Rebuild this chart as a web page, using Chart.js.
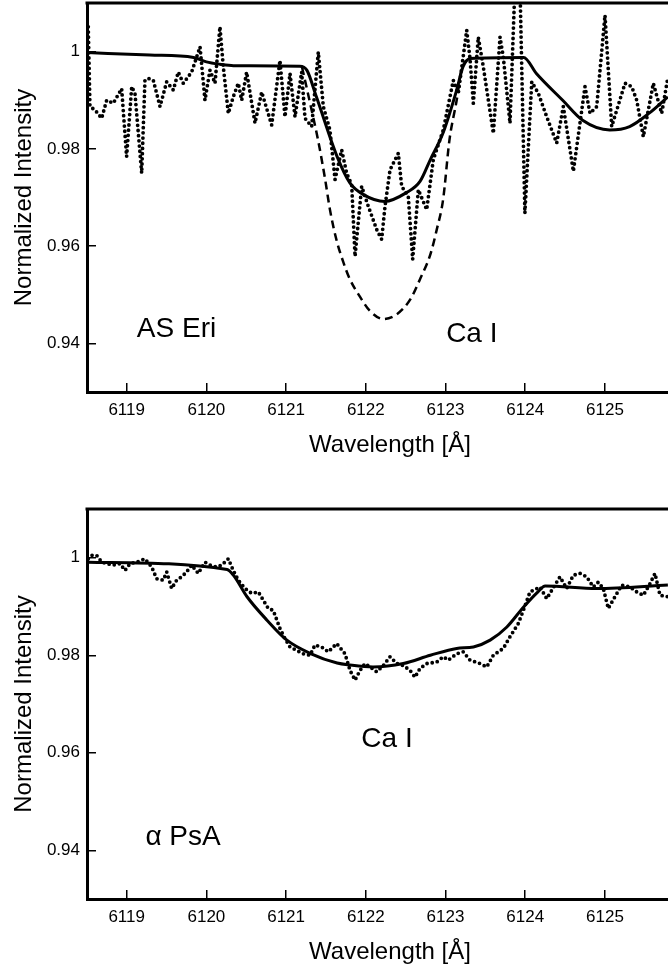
<!DOCTYPE html>
<html><head><meta charset="utf-8">
<script src="https://cdn.jsdelivr.net/npm/chart.js@4.4.0/dist/chart.umd.min.js"></script>
<style>
html,body{margin:0;padding:0;background:#fff;overflow:hidden;width:668px;height:973px;}
.panel{position:absolute;left:0;width:693px;}
#p1{top:0;height:460px;}
#p2{top:506px;height:461px;}
canvas{display:block;}
</style></head><body>
<div class="panel" id="p1"><canvas id="c1" width="693" height="460"></canvas></div>
<div class="panel" id="p2"><canvas id="c2" width="693" height="461"></canvas></div>
<script>
const FONT = '"Liberation Sans", Arial, Helvetica, sans-serif';

// ticks
const xTickValues = [6119, 6120, 6121, 6122, 6123, 6124, 6125];
const yTickValues = [0.94, 0.96, 0.98, 1];
const xTitle = 'Wavelength [Å]';
const yTitle = 'Normalized Intensity';

// ---- top panel: AS Eri ----
const eriObsWave = [6118.518,6118.539,6118.602,6118.686,6118.749,6118.832,6118.937,6118.999,6119.063,6119.104,6119.188,6119.229,6119.271,6119.334,6119.418,6119.502,6119.585,6119.647,6119.710,6119.815,6119.920,6119.982,6120.045,6120.108,6120.170,6120.212,6120.275,6120.337,6120.400,6120.443,6120.505,6120.610,6120.694,6120.819,6120.923,6120.986,6121.049,6121.112,6121.195,6121.237,6121.321,6121.404,6121.467,6121.550,6121.614,6121.697,6121.760,6121.823,6121.865,6121.948,6122.031,6122.137,6122.199,6122.241,6122.304,6122.408,6122.450,6122.533,6122.588,6122.659,6122.764,6122.847,6122.972,6123.098,6123.160,6123.266,6123.307,6123.349,6123.411,6123.474,6123.600,6123.684,6123.725,6123.809,6123.870,6123.935,6123.996,6124.082,6124.165,6124.270,6124.395,6124.478,6124.604,6124.750,6124.813,6124.897,6125.001,6125.085,6125.252,6125.336,6125.399,6125.482,6125.607,6125.712,6125.791];
const eriObsFlux = [1.0051,0.9887,0.9880,0.9863,0.9900,0.9894,0.9924,0.9784,0.9928,0.9914,0.9750,0.9941,0.9945,0.9941,0.9887,0.9938,0.9921,0.9958,0.9935,0.9958,1.0010,0.9900,0.9962,0.9935,1.0051,0.9969,0.9873,0.9907,0.9935,0.9900,0.9958,0.9853,0.9917,0.9849,0.9982,0.9866,0.9955,0.9866,0.9958,0.9863,0.9846,0.9999,0.9887,0.9839,0.9737,0.9798,0.9750,0.9726,0.9579,0.9723,0.9682,0.9634,0.9614,0.9682,0.9757,0.9791,0.9723,0.9702,0.9573,0.9716,0.9675,0.9778,0.9839,0.9941,0.9914,1.0044,0.9986,0.9894,1.0030,0.9969,0.9832,1.0030,0.9989,0.9853,1.0130,1.0130,0.9668,0.9938,0.9914,0.9866,0.9812,0.9887,0.9754,0.9928,0.9873,0.9887,1.0075,0.9846,0.9935,0.9928,0.9900,0.9825,0.9935,0.9873,0.9948];
const eriFitWave = [6118.50,6119.29,6119.84,6120.00,6120.17,6120.34,6121.17,6121.26,6121.38,6121.64,6121.80,6121.97,6122.24,6122.51,6122.68,6122.81,6122.97,6123.14,6123.22,6123.31,6123.98,6124.14,6124.47,6124.72,6125.06,6125.31,6125.56,6125.79];
const eriFitFlux = [0.9998,0.9993,0.9988,0.9979,0.9974,0.9971,0.9970,0.9962,0.9907,0.9784,0.9730,0.9706,0.9692,0.9710,0.9733,0.9778,0.9833,0.9921,0.9969,0.9986,0.9988,0.9955,0.9900,0.9859,0.9839,0.9846,0.9874,0.9907];
const eriModelWave = [6121.20,6121.32,6121.40,6121.49,6121.55,6121.63,6121.72,6121.80,6121.93,6122.05,6122.22,6122.39,6122.56,6122.68,6122.81,6122.89,6122.97,6123.05,6123.14,6123.20,6123.26];
const eriModelFlux = [0.9968,0.9880,0.9819,0.9737,0.9675,0.9614,0.9566,0.9532,0.9495,0.9467,0.9450,0.9460,0.9491,0.9532,0.9583,0.9634,0.9696,0.9819,0.9900,0.9962,0.9982];

// ---- bottom panel: alpha PsA ----
const psaObsWave = [6118.518,6118.561,6118.623,6118.686,6118.749,6118.832,6118.916,6118.979,6119.041,6119.125,6119.229,6119.314,6119.376,6119.459,6119.502,6119.564,6119.627,6119.690,6119.752,6119.815,6119.898,6119.982,6120.045,6120.129,6120.192,6120.275,6120.337,6120.400,6120.484,6120.568,6120.651,6120.714,6120.776,6120.839,6120.923,6120.986,6121.049,6121.133,6121.216,6121.300,6121.362,6121.446,6121.529,6121.635,6121.739,6121.802,6121.865,6121.928,6121.990,6122.053,6122.137,6122.220,6122.304,6122.388,6122.470,6122.555,6122.617,6122.680,6122.764,6122.889,6122.972,6123.035,6123.140,6123.223,6123.307,6123.433,6123.517,6123.600,6123.725,6123.809,6123.913,6123.976,6124.060,6124.185,6124.270,6124.332,6124.436,6124.520,6124.603,6124.687,6124.771,6124.854,6124.917,6124.980,6125.042,6125.126,6125.210,6125.315,6125.399,6125.482,6125.566,6125.628,6125.691,6125.791];
const psaObsFlux = [0.9998,1.0005,1.0005,0.9991,0.9988,0.9985,0.9988,0.9974,0.9988,0.9991,0.9998,0.9981,0.9957,0.9954,0.9971,0.9937,0.9954,0.9961,0.9971,0.9985,0.9968,0.9991,0.9985,0.9981,0.9985,0.9998,0.9974,0.9954,0.9937,0.9927,0.9930,0.9913,0.9896,0.9892,0.9855,0.9834,0.9817,0.9810,0.9803,0.9800,0.9821,0.9817,0.9807,0.9824,0.9803,0.9769,0.9749,0.9769,0.9783,0.9776,0.9766,0.9779,0.9797,0.9783,0.9779,0.9769,0.9755,0.9773,0.9783,0.9786,0.9797,0.9790,0.9803,0.9807,0.9790,0.9783,0.9776,0.9800,0.9814,0.9838,0.9865,0.9892,0.9930,0.9940,0.9916,0.9933,0.9961,0.9937,0.9964,0.9968,0.9961,0.9940,0.9950,0.9937,0.9896,0.9920,0.9944,0.9940,0.9930,0.9923,0.9947,0.9968,0.9923,0.9920];
const psaFitWave = [6118.52,6120.26,6120.34,6120.51,6120.76,6121.01,6121.30,6121.64,6121.80,6122.09,6122.47,6122.81,6123.14,6123.35,6123.56,6123.77,6123.98,6124.16,6124.25,6124.90,6125.79];
const psaFitFlux = [0.9991,0.9976,0.9964,0.9920,0.9872,0.9831,0.9804,0.9784,0.9780,0.9776,0.9783,0.9800,0.9814,0.9817,0.9831,0.9858,0.9899,0.9930,0.9942,0.9937,0.9944];

const xRange = [6118.502, 6126.105];
const yRange = [0.93, 1.01];

const pts = (xs, ys) => xs.map((x, i) => ({x: x, y: ys[i]}));

const frameTop = {
  id: 'frameTop',
  afterDraw(chart) {
    const {ctx, chartArea: a} = chart;
    ctx.save();
    ctx.strokeStyle = '#000';
    ctx.lineWidth = 3;
    ctx.beginPath();
    ctx.moveTo(a.left - 1.5, a.top);
    ctx.lineTo(a.right, a.top);
    ctx.stroke();
    ctx.restore();
  }
};

function textPlugin(notes) {
  return {
    id: 'notes',
    afterDraw(chart) {
      const {ctx} = chart;
      const xs = chart.scales.x, ys = chart.scales.y;
      ctx.save();
      ctx.fillStyle = '#000';
      ctx.font = '28px ' + FONT;
      ctx.textAlign = 'center';
      ctx.textBaseline = 'middle';
      notes.forEach(n => ctx.fillText(n.text, xs.getPixelForValue(n.x), ys.getPixelForValue(n.y)));
      ctx.restore();
    }
  };
}

function makePanel(id, datasets, notes) {
  return new Chart(document.getElementById(id), {
    type: 'line',
    data: {datasets: datasets},
    options: {
      responsive: false,
      animation: false,
      devicePixelRatio: 1,
      events: [],
      layout: {padding: {top: 3, left: 0, right: 0, bottom: 0}},
      plugins: {legend: {display: false}, tooltip: {enabled: false}},
      elements: {point: {radius: 0}},
      scales: {
        x: {
          type: 'linear', min: xRange[0], max: xRange[1],
          afterFit: s => { s.height = 68; s.paddingLeft = 0; s.paddingRight = 0; },
          afterBuildTicks: s => { s.ticks = xTickValues.map(v => ({value: v})); },
          grid: {drawOnChartArea: false, drawTicks: true, tickLength: -9, color: '#000', lineWidth: 1.5},
          border: {display: true, color: '#000', width: 3},
          ticks: {padding: 17, color: '#000', font: {family: FONT, size: 17}, maxRotation: 0, callback: v => String(v)},
          title: {display: true, text: xTitle, color: '#000', font: {family: FONT, size: 24}, padding: {top: 0, bottom: 0}}
        },
        y: {
          type: 'linear', min: yRange[0], max: yRange[1],
          afterFit: s => { s.width = 87; s.paddingTop = 0; s.paddingBottom = 0; },
          afterBuildTicks: s => { s.ticks = yTickValues.map(v => ({value: v})); },
          grid: {drawOnChartArea: false, drawTicks: true, tickLength: -9, color: '#000', lineWidth: 1.5},
          border: {display: true, color: '#000', width: 3},
          ticks: {padding: 16, color: '#000', font: {family: FONT, size: 17}, callback: v => String(+v.toFixed(2))},
          title: {display: true, text: yTitle, color: '#000', font: {family: FONT, size: 24}, padding: {top: 10, bottom: 0}}
        }
      }
    },
    plugins: [frameTop, textPlugin(notes)]
  });
}

const solidStyle = {borderColor: '#000', borderWidth: 3, cubicInterpolationMode: 'monotone', fill: false, pointRadius: 0};
const dottedStyle = {borderColor: '#000', borderWidth: 3.8, borderDash: [0, 5.2], borderCapStyle: 'round', borderJoinStyle: 'round', tension: 0, fill: false, pointRadius: 0};
const dashedStyle = {borderColor: '#000', borderWidth: 2.5, borderDash: [8, 5], cubicInterpolationMode: 'monotone', fill: false, pointRadius: 0};

makePanel('c1', [
  Object.assign({label: 'AS Eri model', data: pts(eriModelWave, eriModelFlux)}, dashedStyle),
  Object.assign({label: 'AS Eri fit', data: pts(eriFitWave, eriFitFlux)}, solidStyle),
  Object.assign({label: 'AS Eri observed', data: pts(eriObsWave, eriObsFlux)}, dottedStyle)
], [
  {text: 'AS Eri', x: 6119.625, y: 0.9429},
  {text: 'Ca I', x: 6123.33, y: 0.9419}
]);

makePanel('c2', [
  Object.assign({label: 'α PsA fit', data: pts(psaFitWave, psaFitFlux)}, solidStyle),
  Object.assign({label: 'α PsA observed', data: pts(psaObsWave, psaObsFlux)}, dottedStyle)
], [
  {text: 'Ca I', x: 6122.266, y: 0.9627},
  {text: 'α PsA', x: 6119.707, y: 0.9427}
]);
</script>
</body></html>
